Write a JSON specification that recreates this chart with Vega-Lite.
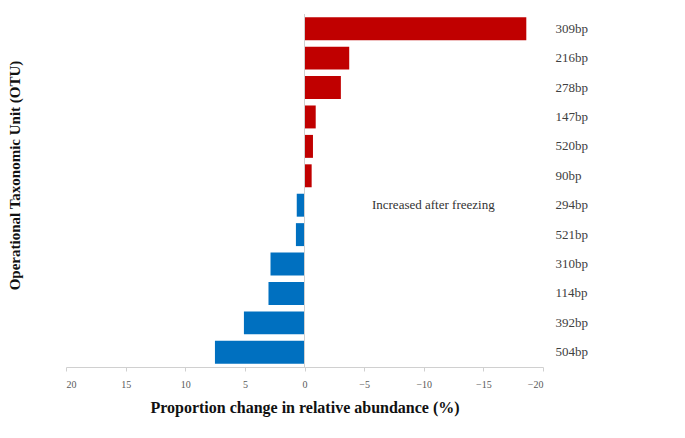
{
  "$schema": "https://vega.github.io/schema/vega-lite/v6.json",
  "width": 477,
  "height": 353,
  "autosize": {"type": "none"},
  "padding": {"left": 66, "top": 14, "right": 142, "bottom": 71},
  "background": "white",
  "config": {"view": {"stroke": null}, "font": "Liberation Serif"},
  "datasets": {
    "otu": [
      {"otu": "309bp", "change": -18.6, "group": "up"},
      {"otu": "216bp", "change": -3.75, "group": "up"},
      {"otu": "278bp", "change": -3.05, "group": "up"},
      {"otu": "147bp", "change": -0.94, "group": "up"},
      {"otu": "520bp", "change": -0.71, "group": "up"},
      {"otu": "90bp", "change": -0.6, "group": "up"},
      {"otu": "294bp", "change": 0.65, "group": "down"},
      {"otu": "521bp", "change": 0.72, "group": "down"},
      {"otu": "310bp", "change": 2.85, "group": "down"},
      {"otu": "114bp", "change": 3.02, "group": "down"},
      {"otu": "392bp", "change": 5.08, "group": "down"},
      {"otu": "504bp", "change": 7.51, "group": "down"}
    ],
    "note": [{"otu": "294bp", "x": -10.8, "label": "Increased after freezing"}]
  },
  "resolve": {"axis": {"y": "independent"}},
  "layer": [
    {
      "data": {"name": "otu"},
      "mark": {"type": "bar"},
      "encoding": {
        "y": {
          "field": "otu", "type": "nominal", "sort": null,
          "scale": {"paddingInner": 0.22, "paddingOuter": 0.11},
          "axis": {"orient": "right", "title": null, "domain": false, "ticks": false,
                   "labelPadding": 12, "labelFontSize": 13, "labelColor": "#404040", "labelFont": "Liberation Serif"}
        },
        "x": {
          "field": "change", "type": "quantitative",
          "scale": {"domain": [20, -20], "nice": false},
          "axis": {"values": [20, 15, 10, 5, 0, -5, -10, -15, -20], "grid": false,
                   "domainColor": "#d0d0d0", "tickColor": "#d0d0d0", "tickSize": 4,
                   "labelFontSize": 10, "labelColor": "#595959", "labelPadding": 8,
                   "title": "Proportion change in relative abundance (%)",
                   "titleFontSize": 16, "titleFontWeight": "bold", "titleColor": "#111111",
                   "titlePadding": 10, "titleFont": "Liberation Serif"}
        },
        "color": {
          "field": "group", "type": "nominal",
          "scale": {"domain": ["up", "down"], "range": ["#c00000", "#0070c0"]},
          "legend": null
        }
      }
    },
    {
      "data": {"name": "otu"},
      "mark": {"type": "rule", "color": "#d0d0d0", "strokeWidth": 1},
      "encoding": {"x": {"datum": 0, "type": "quantitative"}}
    },
    {
      "data": {"name": "note"},
      "mark": {"type": "text", "fontSize": 13, "color": "#333333", "font": "Liberation Serif"},
      "encoding": {
        "y": {
          "field": "otu", "type": "nominal",
          "scale": {"domain": ["309bp","216bp","278bp","147bp","520bp","90bp","294bp","521bp","310bp","114bp","392bp","504bp"]},
          "axis": {"orient": "left", "labels": false, "ticks": false, "domain": false,
                   "title": "Operational Taxonomic Unit (OTU)", "titleFontSize": 15,
                   "titleFontWeight": "bold", "titleColor": "#111111", "titlePadding": 44,
                   "titleY": 161, "titleFont": "Liberation Serif"}
        },
        "x": {"field": "x", "type": "quantitative"},
        "text": {"field": "label"}
      }
    }
  ]
}
